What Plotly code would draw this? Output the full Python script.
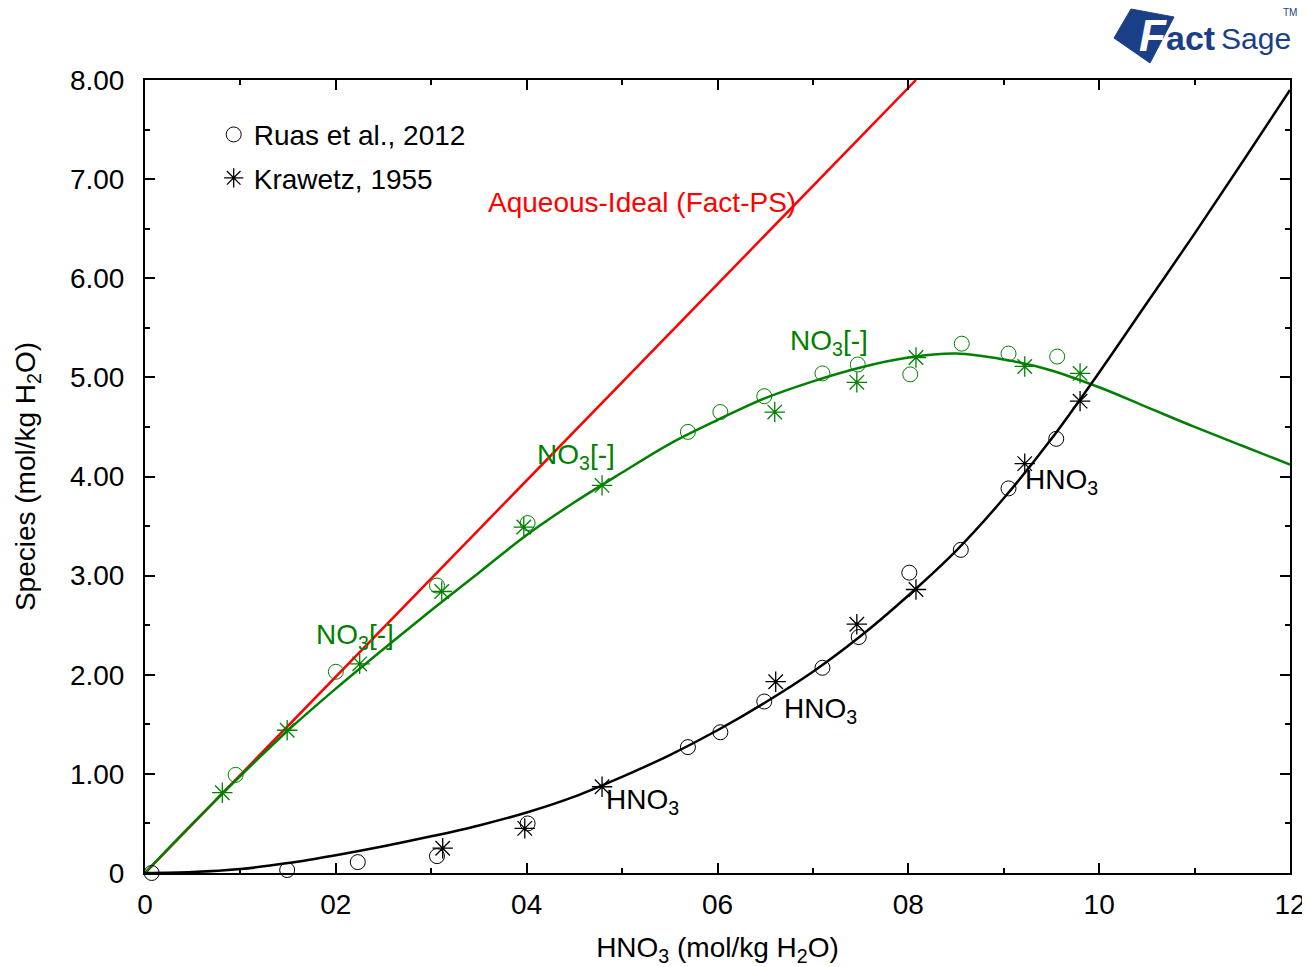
import plotly.graph_objects as go

# ---------------- data ----------------
# model curves
ideal_x = [0.0, 8.08]
ideal_y = [0.0, 8.0]

curve_x = [0, 0.5, 1, 1.5, 2, 2.5, 3, 3.5, 4, 4.5, 5, 5.5, 6, 6.5, 7, 7.5, 8, 8.5, 9, 9.5, 10, 10.5, 11, 11.5, 12]
no3_y = [0, 0.5, 0.98, 1.44, 1.86, 2.26, 2.65, 3.03, 3.41, 3.74, 4.04, 4.33, 4.57, 4.79, 4.96, 5.10, 5.20, 5.24, 5.18, 5.07, 4.90, 4.70, 4.50, 4.31, 4.12]
hno3_y = [0, 0.01, 0.04, 0.10, 0.18, 0.27, 0.37, 0.48, 0.61, 0.77, 0.97, 1.19, 1.44, 1.72, 2.03, 2.39, 2.80, 3.25, 3.78, 4.38, 5.05, 5.75, 6.45, 7.17, 7.90]

# Ruas et al., 2012 (circles)
ruas_no3_x = [0.95, 2.0, 3.06, 4.01, 5.69, 6.03, 6.49, 7.1, 7.47, 8.02, 8.56, 9.05, 9.56]
ruas_no3_y = [0.99, 2.03, 2.90, 3.53, 4.45, 4.65, 4.81, 5.04, 5.13, 5.03, 5.34, 5.24, 5.21]
ruas_hno3_x = [0.07, 1.49, 2.23, 3.06, 4.01, 5.69, 6.03, 6.49, 7.1, 7.48, 8.01, 8.55, 9.05, 9.55]
ruas_hno3_y = [0.0, 0.03, 0.11, 0.17, 0.50, 1.27, 1.42, 1.73, 2.07, 2.38, 3.03, 3.26, 3.88, 4.38]

# Krawetz, 1955 (asterisks)
kra_no3_x = [0.81, 1.49, 2.25, 3.11, 3.97, 4.79, 6.6, 7.46, 8.08, 9.22, 9.8]
kra_no3_y = [0.81, 1.44, 2.11, 2.84, 3.49, 3.91, 4.65, 4.95, 5.20, 5.11, 5.04]
kra_hno3_x = [3.12, 3.98, 4.79, 6.61, 7.46, 8.08, 9.22, 9.8]
kra_hno3_y = [0.25, 0.45, 0.87, 1.93, 2.51, 2.86, 4.13, 4.76]

x_tickvals = [0, 2, 4, 6, 8, 10, 12]
x_ticktext = ["0", "02", "04", "06", "08", "10", "12"]
y_tickvals = [0, 1, 2, 3, 4, 5, 6, 7, 8]
y_ticktext = ["0", "1.00", "2.00", "3.00", "4.00", "5.00", "6.00", "7.00", "8.00"]

legend_names = ["Ruas et al., 2012", "Krawetz, 1955"]

# labels: (text, x, y, colour)
labels = [
    ("Aqueous-Ideal (Fact-PS)", 5.21, 6.76, "#ff0000"),
    ("NO<sub>3</sub>[-]", 2.2, 2.39, "#008000"),
    ("NO<sub>3</sub>[-]", 4.52, 4.20, "#008000"),
    ("NO<sub>3</sub>[-]", 7.17, 5.35, "#008000"),
    ("HNO<sub>3</sub>", 5.21, 0.72, "#000000"),
    ("HNO<sub>3</sub>", 7.08, 1.64, "#000000"),
    ("HNO<sub>3</sub>", 9.61, 3.95, "#000000"),
]

GREEN = "#008000"
FONT = "Liberation Sans, Arial, sans-serif"
FS = 28

# ---------------- figure ----------------
fig = go.Figure()

fig.add_trace(go.Scatter(x=ideal_x, y=ideal_y, mode="lines",
                         line=dict(color="#ff0000", width=2.5), showlegend=False))
fig.add_trace(go.Scatter(x=curve_x, y=no3_y, mode="lines", line_shape="spline",
                         line=dict(color=GREEN, width=2.5), showlegend=False))
fig.add_trace(go.Scatter(x=curve_x, y=hno3_y, mode="lines", line_shape="spline",
                         line=dict(color="black", width=2.5), showlegend=False))

circ = dict(symbol="circle-open", size=15, line=dict(width=1))
star = dict(symbol="asterisk-open", size=17, line=dict(width=1.3))

fig.add_trace(go.Scatter(x=ruas_no3_x, y=ruas_no3_y, mode="markers", cliponaxis=False,
                         marker=dict(color=GREEN, **circ), showlegend=False))
fig.add_trace(go.Scatter(x=ruas_hno3_x, y=ruas_hno3_y, mode="markers", cliponaxis=False,
                         marker=dict(color="black", **circ), showlegend=False))
fig.add_trace(go.Scatter(x=kra_no3_x, y=kra_no3_y, mode="markers",
                         marker=dict(color=GREEN, **star), showlegend=False))
fig.add_trace(go.Scatter(x=kra_hno3_x, y=kra_hno3_y, mode="markers",
                         marker=dict(color="black", **star), showlegend=False))

# legend entries
fig.add_trace(go.Scatter(x=[None], y=[None], mode="markers", name=legend_names[0],
                         legendgroup="a", marker=dict(color="black", **circ)))
fig.add_trace(go.Scatter(x=[None], y=[None], mode="markers", name=legend_names[1],
                         legendgroup="b", marker=dict(color="black", **star)))

for txt, x, y, col in labels:
    fig.add_annotation(x=x, y=y, text=txt, showarrow=False,
                       font=dict(family=FONT, size=FS, color=col),
                       xanchor="center", yanchor="middle")

# ---- FactSage logo (decoration, placed in pixel-derived paper coords) ----
L, R, T, B = 145, 1290, 80, 873   # plot area on screen
def px(xp):
    return (xp - L) / (R - L)
def py(yp):
    return (B - yp) / (B - T)

BLUE = "#1b3f87"
poly = [(1114, 38), (1131, 9), (1174, 17), (1150, 63)]
path = "M " + " L ".join(f"{px(a):.5f},{py(b):.5f}" for a, b in poly) + " Z"
fig.add_shape(type="path", path=path, xref="paper", yref="paper",
              fillcolor=BLUE, line=dict(color=BLUE, width=1), layer="above")
fig.add_annotation(x=px(1153), y=py(36), xref="paper", yref="paper", showarrow=False,
                   text="<b><i>F</i></b>", font=dict(family=FONT, size=44, color="white"),
                   xanchor="center", yanchor="middle")
fig.add_annotation(x=px(1164), y=py(38), xref="paper", yref="paper", showarrow=False,
                   text="<b>act</b>", font=dict(family=FONT, size=34, color=BLUE),
                   xanchor="left", yanchor="middle")
fig.add_annotation(x=px(1219), y=py(38), xref="paper", yref="paper", showarrow=False,
                   text="Sage", font=dict(family=FONT, size=30, color=BLUE),
                   xanchor="left", yanchor="middle")
fig.add_annotation(x=px(1281), y=py(12), xref="paper", yref="paper", showarrow=False,
                   text="TM", font=dict(family=FONT, size=10, color=BLUE),
                   xanchor="left", yanchor="middle")

axis_common = dict(showline=True, linecolor="black", linewidth=2, mirror="ticks",
                   ticks="inside", tickcolor="black", tickwidth=2, ticklen=10,
                   showgrid=False, zeroline=False,
                   tickfont=dict(family=FONT, size=FS, color="black"))

fig.update_xaxes(range=[0, 12], tickmode="array", tickvals=x_tickvals, ticktext=x_ticktext,
                 minor=dict(dtick=1, ticks="inside", ticklen=5, tickcolor="black", tickwidth=2),
                 title=dict(text="HNO<sub>3</sub> (mol/kg H<sub>2</sub>O)",
                            font=dict(family=FONT, size=FS, color="black"), standoff=20),
                 ticklabelstandoff=5,
                 **axis_common)
fig.update_yaxes(range=[0, 8], tickmode="array", tickvals=y_tickvals, ticktext=y_ticktext,
                 minor=dict(dtick=0.5, ticks="inside", ticklen=5, tickcolor="black", tickwidth=2),
                 title=dict(text="Species (mol/kg H<sub>2</sub>O)",
                            font=dict(family=FONT, size=FS, color="black"), standoff=26),
                 ticklabelstandoff=13,
                 **axis_common)

# the page adds an 8 px body margin, so the figure is 8 px smaller and margins shifted
fig.update_layout(
    width=1302, height=959,
    margin=dict(l=137, r=20, t=72, b=94, autoexpand=False),
    paper_bgcolor="white", plot_bgcolor="white",
    font=dict(family=FONT, size=FS, color="black"),
    legend=dict(x=0.060, y=0.9625, xanchor="left", yanchor="top",
                bgcolor="rgba(0,0,0,0)", font=dict(family=FONT, size=FS, color="black"),
                tracegroupgap=4, itemwidth=30),
)

fig.write_html("out.html")
